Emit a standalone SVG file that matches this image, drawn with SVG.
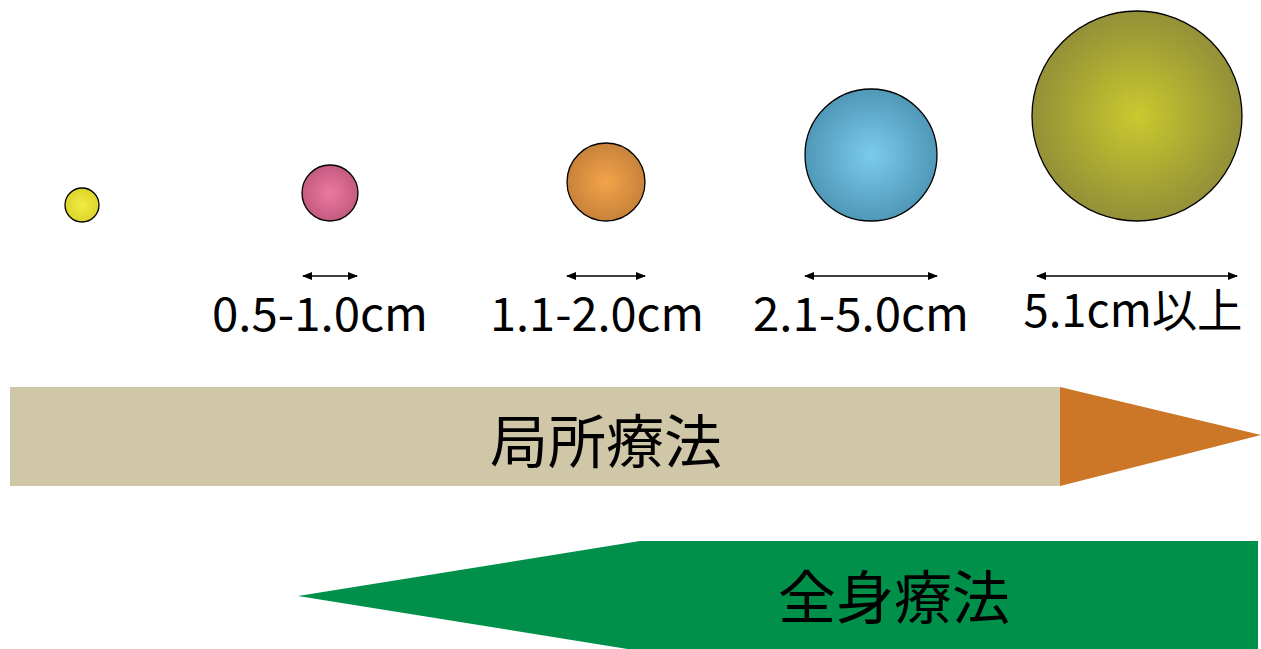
<svg xmlns="http://www.w3.org/2000/svg" width="1261" height="649" viewBox="0 0 1261 649">
<style>
.ball{stroke:#000;stroke-width:1.3}
.lbl{font-family:"Noto Sans CJK JP","Noto Sans",sans-serif;font-size:46px;fill:#000;text-anchor:middle}
.big{font-family:"Noto Sans CJK JP","Noto Sans",sans-serif;font-size:58px;fill:#000;text-anchor:middle}
.dim{stroke:#000;stroke-width:1.5;fill:none;marker-start:url(#ah);marker-end:url(#ah)}
</style>
<defs>
<marker id="ah" viewBox="0 0 10 10" refX="9" refY="5" markerWidth="10" markerHeight="10" markerUnits="userSpaceOnUse" orient="auto-start-reverse"><path d="M0,1 L10,5 L0,9 Z" fill="#000"/></marker>
<radialGradient id="gY"><stop offset="0" stop-color="#f2ec45"/><stop offset="1" stop-color="#dcd42a"/></radialGradient>
<radialGradient id="gP"><stop offset="0" stop-color="#ec7aa0"/><stop offset="1" stop-color="#c45a80"/></radialGradient>
<radialGradient id="gO"><stop offset="0" stop-color="#f4a44a"/><stop offset="1" stop-color="#c8823a"/></radialGradient>
<radialGradient id="gB"><stop offset="0" stop-color="#7acbee"/><stop offset="1" stop-color="#5098b8"/></radialGradient>
<radialGradient id="gG"><stop offset="0" stop-color="#cbc92e"/><stop offset="1" stop-color="#939038"/></radialGradient>
</defs>
<g id="ball-xs"><circle class="ball" cx="82" cy="205" r="17" fill="url(#gY)"/></g>
<g id="ball-s"><circle class="ball" cx="330" cy="193" r="28" fill="url(#gP)"/><text class="lbl" x="320" y="331" textLength="216" lengthAdjust="spacingAndGlyphs">0.5-1.0cm</text></g>
<g id="ball-m"><circle class="ball" cx="606" cy="182" r="39" fill="url(#gO)"/><text class="lbl" x="597" y="331" textLength="214" lengthAdjust="spacingAndGlyphs">1.1-2.0cm</text></g>
<g id="ball-l"><circle class="ball" cx="871" cy="155" r="66" fill="url(#gB)"/><text class="lbl" x="861" y="331" textLength="216" lengthAdjust="spacingAndGlyphs">2.1-5.0cm</text></g>
<g id="ball-xl"><circle class="ball" cx="1137" cy="116" r="105" fill="url(#gG)"/><text class="lbl" x="1133" y="327" textLength="219" lengthAdjust="spacingAndGlyphs">5.1cm以上</text></g>
<g id="connectors">
<line class="dim" x1="303" y1="276" x2="357" y2="276"/>
<line class="dim" x1="567" y1="276" x2="645" y2="276"/>
<line class="dim" x1="805" y1="276" x2="937" y2="276"/>
<line class="dim" x1="1037" y1="276" x2="1237" y2="276"/>
</g>
<g id="local">
<rect x="10" y="387" width="1050" height="99" fill="#d0c6a8"/>
<polygon points="1060,387 1261,435 1060,486" fill="#cc7628"/>
<text class="big" x="606" y="463">局所療法</text>
</g>
<g id="systemic">
<polygon points="298,596 640,541 1258,541 1258,651 640,651" fill="#00904a"/>
<text class="big" x="894" y="619">全身療法</text>
</g>
</svg>
